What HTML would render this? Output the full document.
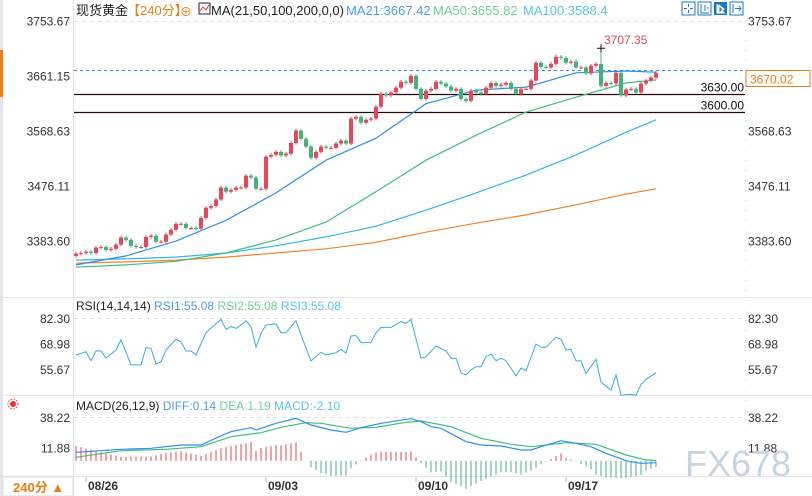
<!DOCTYPE html>
<html><head><meta charset="utf-8"><style>
body{margin:0;background:#fff;}
svg{display:block;font-family:"Liberation Sans","Noto Sans CJK SC",sans-serif;}
</style></head><body>
<svg id="c" width="812" height="496" viewBox="0 0 812 496">
<rect x="0" y="0" width="812" height="496" fill="#fff"/>
<rect x="0" y="0" width="3" height="496" fill="#e6e6ea"/>
<rect x="0" y="50" width="3" height="47" fill="#f07d16"/>
<line x1="73.5" y1="0" x2="73.5" y2="496" stroke="#e2e2e2"/>
<line x1="745.5" y1="20" x2="745.5" y2="475" stroke="#ccc" stroke-dasharray="1,9"/>
<line x1="0" y1="297.5" x2="812" y2="297.5" stroke="#e4e4e4"/>
<line x1="0" y1="395.5" x2="812" y2="395.5" stroke="#e4e4e4"/>
<line x1="0" y1="476.5" x2="812" y2="476.5" stroke="#e4e4e4"/>
<g font-size="13">
<text x="76" y="15" fill="#222">现货黄金</text>
<text x="127" y="15" fill="#f07d16">【240分】</text>
<text x="180" y="16" fill="#f07d16" font-size="12">⊕</text>
<rect x="199" y="3" width="11" height="11" fill="#fff" stroke="#223"/>
<polyline points="200,11 203,7 206,10 209,5" fill="none" stroke="#e33" stroke-width="1"/>
<text x="211" y="15" fill="#222">MA(21,50,100,200,0,0)</text>
<text x="346" y="15" fill="#4b9cf2">MA21:3667.42</text>
<text x="433" y="15" fill="#6fcf9b">MA50:3655.82</text>
<text x="523" y="15" fill="#5bc3ee">MA100:3588.4</text>
</g>
<g>
<rect x="682" y="2" width="13" height="13" fill="#fff" stroke="#1a78c2"/>
<path d="M688.5 4v3M688.5 10v3M684 8.5h3M690 8.5h3" stroke="#1a78c2"/>
<rect x="698" y="2" width="13" height="13" fill="#fff" stroke="#1a78c2"/>
<path d="M701 4v9h8M705 5v6M707 8h2" stroke="#1a78c2" fill="none"/>
<rect x="714" y="2" width="13" height="13" fill="#1a78c2"/>
<path d="M717 4v9h8M719 5l5 4-5 4z" stroke="#fff" fill="#fff"/>
<rect x="730" y="2" width="13" height="13" fill="#fff" stroke="#1a78c2"/>
<path d="M733 4v9M735 8.5h6M739 6l2 2.5-2 2.5" stroke="#1a78c2" fill="none"/>
</g>
<g id="main"></g><g id="rsi"></g><g id="macd"></g><g id="xax"></g>
<text x="685" y="476" fill="#c8d4e2" font-size="36">FX678</text>
<rect x="3" y="477" width="70" height="19" fill="#fff" stroke="#ddd"/>
<text x="13" y="492" fill="#f07d16" font-size="13" font-weight="bold">240分 ▲</text>
<circle cx="13" cy="404" r="3" fill="#e33"/>
<circle cx="13" cy="404" r="5" fill="none" stroke="#e33" stroke-dasharray="1.5,1.5"/>
</svg>
<script>
const closes=[3362,3363,3365,3363,3372,3373,3368,3370,3377,3389,3385,3375,3373,3373,3390,3392,3382,3382,3394,3402,3412,3412,3405,3405,3404,3422,3439,3442,3453,3473,3466,3469,3473,3473,3493,3490,3471,3471,3525,3528,3533,3527,3530,3548,3569,3555,3542,3523,3533,3542,3540,3540,3547,3552,3547,3589,3592,3582,3587,3589,3609,3631,3628,3633,3641,3651,3649,3661,3639,3622,3636,3639,3651,3648,3643,3636,3639,3622,3619,3636,3633,3631,3641,3649,3644,3646,3649,3639,3631,3639,3639,3653,3683,3676,3675,3681,3693,3691,3683,3685,3675,3675,3665,3678,3681,3644,3649,3648,3666,3628,3638,3639,3633,3648,3653,3658,3666];
const firstOpen=3358;
const highMark=3707.35, highIdx=105;
const maIdx=[0,10,20,30,40,50,60,70,80,90,100,110,116];
const ma21=[3343,3358,3383,3418,3464,3519,3556,3614,3637,3642,3666,3669,3667];
const ma50=[3339,3343,3349,3363,3385,3415,3466,3519,3561,3600,3625,3649,3654];
const ma100=[3351,3353,3356,3363,3375,3390,3408,3435,3464,3494,3528,3566,3587];
const ma200=[3346,3348,3351,3356,3363,3370,3381,3398,3413,3427,3444,3462,3471];
const priceTicks=["3753.67","3661.15","3568.63","3476.11","3383.60"];
const levels=[3630,3600];
const lastPrice=3670.02;
const rsiIdx=[0,2,3,4,5,6,8,9,11,13,14,15,16,17,18,20,21,22,23,24,26,27,29,30,31,32,33,34,35,36,37,38,40,41,42,44,45,47,49,50,52,53,54,55,56,57,59,60,61,63,65,66,67,69,70,72,74,75,76,77,78,79,80,81,82,83,84,85,86,88,89,90,92,93,94,96,97,98,99,100,101,102,104,105,107,108,109,111,112,113,114,116];
const rsiVal=[63.0,64.7,60.0,65.1,65.2,61.3,65.6,70.8,57.8,57.8,66.8,66.5,58.3,59.5,65.6,71.2,69.9,65.1,65.1,63.0,74.6,76.9,81.6,76.4,77.8,76.9,78.6,80.9,77.8,67.0,74.3,78.6,79.2,74.6,74.6,80.9,73.4,59.9,64.4,63.0,64.2,66.0,63.9,72.9,73.1,69.4,69.6,74.6,77.4,77.4,80.4,79.5,81.6,61.3,62.1,67.7,65.1,61.3,61.3,53.7,52.6,55.2,56.9,56.9,62.1,63.5,60.0,61.3,60.0,52.0,56.1,54.8,68.7,67.0,67.0,72.2,71.2,65.6,66.0,59.9,59.9,53.2,60.8,48.8,44.7,52.6,42.0,42.5,42.0,47.5,50.3,53.7];
const rsiTicks=["82.30","68.98","55.67"];
const diffIdx=[0,9,15,21,25,29,31,35,36,40,44,47,51,54,57,61,66,67,69,71,73,78,81,85,89,91,93,97,100,103,106,110,113,116];
const diffVal=[7.5,10.1,11.0,13.9,13.9,21.9,25.4,28.9,26.9,32.7,37.1,31.3,26.9,24.9,28.9,32.7,36.2,36.7,34.1,29.8,28.4,16.7,13.9,13.0,9.5,9.5,12.4,17.6,15.3,12.4,6.6,0.2,-2.1,-1.5];
const deaIdx=[0,9,18,25,31,37,41,46,49,55,60,66,69,75,81,87,91,98,104,110,114,116];
const deaVal=[3.2,8.9,10.1,12.4,21.1,24.6,29.3,33.3,32.7,28.4,29.3,33.6,34.7,29.8,19.7,14.5,12.4,15.9,14.5,5.2,0.9,0.3];
const macdTicks=["38.22","11.88"];
const dateLabels=["08/26","09/03","09/10","09/17"];
const dateIdx=[2,38,68,98];

const NS="http://www.w3.org/2000/svg";
function mk(parent,tag,attrs){const e=document.createElementNS(NS,tag);for(const k in attrs)e.setAttribute(k,attrs[k]);parent.appendChild(e);return e;}
const X=i=>76+i*5;
const Y=p=>(3788.5-p)/1.682;
const YR=v=>318+(82.30-v)/0.522;
const YM=v=>417+(38.22-v)/0.87;
const main=document.getElementById('main'),rsi=document.getElementById('rsi'),macd=document.getElementById('macd'),xax=document.getElementById('xax');
const RED="#e8475a",GRN="#45b27c";
function lineAt(g,val,yf,name,dash){
  const y=Math.round(yf(val))+0.5;
  const l=mk(g,'line',{x1:74,x2:745,y1:y,y2:y,stroke:'#e0e0e0','stroke-dasharray':dash||'4,4'});
  
  
}
function axisText(g,txt,y,name){
  const a=mk(g,'text',{x:70,y:y+5,'text-anchor':'end','font-size':12,fill:'#333'});a.textContent=txt;
  
  
  const b=mk(g,'text',{x:748,y:y+5,'font-size':12,fill:'#333'});b.textContent=txt;
  
  
}
priceTicks.forEach((t,k)=>{const y=Y(parseFloat(t));axisText(main,t,y,'price-tick');if(k===0)lineAt(main,parseFloat(t),Y,'price-gridline');});
levels.forEach(v=>{
  const y=Math.round(Y(v))+0.5;
  const l=mk(main,'line',{x1:74,x2:745,y1:y,y2:y,stroke:'#2a0a0a','stroke-width':1.2});
  
  
  const t=mk(main,'text',{x:744,y:y-3,'text-anchor':'end','font-size':12,fill:'#111'});t.textContent=v.toFixed(2);
  
  
});
{const y=Math.round(Y(lastPrice))+0.5;
 const l=mk(main,'line',{x1:74,x2:745,y1:y,y2:y,stroke:'#2f8ef0','stroke-dasharray':'3,3'});
 
 
 const r=mk(main,'rect',{x:746,y:y,width:64,height:16,fill:'#fff',stroke:'#f07d16'});
 
 
 const t=mk(main,'text',{x:750,y:y+13,'font-size':12,fill:'#f07d16'});t.textContent=lastPrice.toFixed(2);
 
 }
function maLine(idx,vals,color,name){
  const pts=idx.map((i,k)=>X(i)+','+Y(vals[k]).toFixed(1)).join(' ');
  const p=mk(main,'polyline',{points:pts,fill:'none',stroke:color,'stroke-width':1.2});
  
  
}
maLine(maIdx,ma200,'#f5832a','ma200-line');
maLine(maIdx,ma100,'#35b5e8','ma100-line');
maLine(maIdx,ma50,'#3dbf7f','ma50-line');
maLine(maIdx,ma21,'#2f8ef0','ma21-line');
closes.forEach((c,i)=>{
  const o=i===0?firstOpen:closes[i-1];
  const up=c>=o,col=up?RED:GRN;
  let hi=Math.max(o,c)+3,lo=Math.min(o,c)-3;
  if(i===highIdx)hi=highMark;
  const x=X(i);
  const w=mk(main,'line',{x1:x,x2:x,y1:Y(hi),y2:Y(lo),stroke:col});
  
  
  const top=Y(Math.max(o,c)),bot=Y(Math.min(o,c));
  const b=mk(main,'rect',{x:x-2,y:top,width:4,height:Math.max(1,bot-top),fill:col});
  
  
});
{const x=X(highIdx),y=Y(highMark);
 const m=mk(main,'path',{d:`M${x-4} ${y}h8M${x} ${y-4}v8`,stroke:'#111'});
 
 
 const t=mk(main,'text',{x:x+3,y:y-4,'font-size':12,fill:'#e8475a'});t.textContent=highMark.toFixed(2);
 
 }
{const t=mk(rsi,'text',{x:76,y:310,'font-size':12,fill:'#222'});t.innerHTML='RSI(14,14,14) <tspan fill="#4b9cf2">RSI1:55.08</tspan>  <tspan fill="#6fcf9b">RSI2:55.08</tspan>  <tspan fill="#5bc3ee">RSI3:55.08</tspan>';
 
 }
rsiTicks.forEach((t,k)=>{axisText(rsi,t,YR(parseFloat(t)),'rsi-tick');if(k===0)lineAt(rsi,parseFloat(t),YR,'rsi-gridline');});
{const p=mk(rsi,'polyline',{points:rsiIdx.map((i,k)=>X(i)+','+YR(rsiVal[k]).toFixed(1)).join(' '),fill:'none',stroke:'#35aee0','stroke-width':1});
 
 }
{const t=mk(macd,'text',{x:76,y:410,'font-size':12,fill:'#222'});t.innerHTML='MACD(26,12,9) <tspan fill="#4b9cf2">DIFF:0.14</tspan>  <tspan fill="#6fcf9b">DEA:1.19</tspan>  <tspan fill="#5bc3ee">MACD:-2.10</tspan>';
 
 }
macdTicks.forEach((t,k)=>{axisText(macd,t,YM(parseFloat(t)),'macd-tick');if(k===0)lineAt(macd,parseFloat(t),YM,'macd-gridline');});
function interp(idx,vals,i){for(let k=0;k<idx.length-1;k++){if(i>=idx[k]&&i<=idx[k+1]){const f=(i-idx[k])/(idx[k+1]-idx[k]);return vals[k]+f*(vals[k+1]-vals[k]);}}return vals[vals.length-1];}
for(let i=0;i<closes.length;i++){
  const h=3*(interp(diffIdx,diffVal,i)-interp(deaIdx,deaVal,i));
  const y0=YM(0),y1=YM(h);
  const b=mk(macd,'line',{x1:X(i),x2:X(i),y1:y0,y2:y1,stroke:h>=0?RED:GRN});
  
  
}
{const p=mk(macd,'polyline',{points:deaIdx.map((i,k)=>X(i)+','+YM(deaVal[k]).toFixed(1)).join(' '),fill:'none',stroke:'#3dbf7f','stroke-width':1.2});
 
 
 const q=mk(macd,'polyline',{points:diffIdx.map((i,k)=>X(i)+','+YM(diffVal[k]).toFixed(1)).join(' '),fill:'none',stroke:'#2f8ef0','stroke-width':1.2});
 
 }
dateLabels.forEach((d,k)=>{
  const x=X(dateIdx[k]);
  const l=mk(xax,'line',{x1:x,x2:x,y1:477,y2:482,stroke:'#bbb'});
  
  
  const t=mk(xax,'text',{x:x+2,y:490,'font-size':12,'font-weight':'bold',fill:'#333'});t.textContent=d;
  
  
});
</script>
</body></html>
